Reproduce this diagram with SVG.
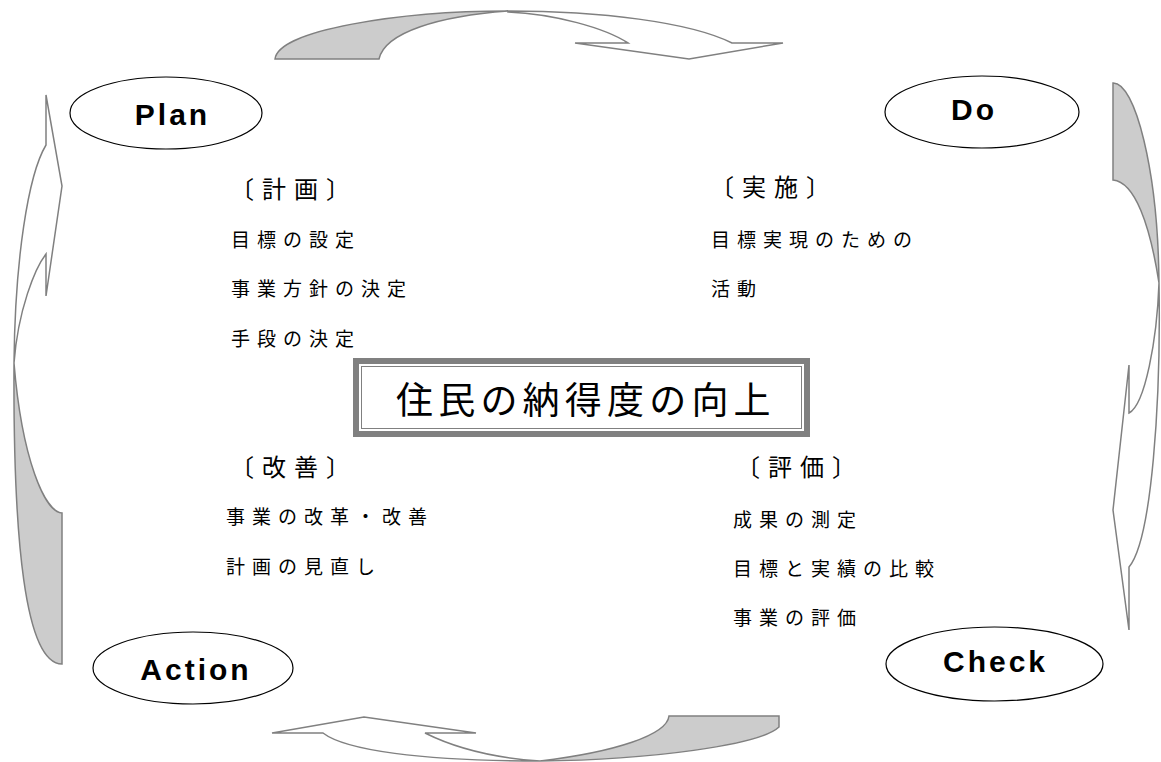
<svg xmlns="http://www.w3.org/2000/svg" width="1161" height="762" viewBox="0 0 1161 762">
<style>
.arw{stroke:#808080;stroke-width:1.5;stroke-linejoin:miter}
.w{fill:#ffffff}
.g{fill:#cccccc}
.ell{fill:#ffffff;stroke:#000000;stroke-width:1.2}
.en{font-family:"Liberation Sans",Arial,sans-serif;font-weight:bold;font-size:30px;letter-spacing:3px;fill:#000;text-anchor:middle}
.hd{font-family:"Noto Sans CJK JP","Noto Sans CJK SC",sans-serif;font-size:24px;letter-spacing:8px;fill:#000}
.it{font-family:"Noto Sans CJK JP","Noto Sans CJK SC",sans-serif;font-size:19px;letter-spacing:7px;fill:#000}
.ct{font-family:"Noto Sans CJK JP","Noto Sans CJK SC",sans-serif;font-size:37px;letter-spacing:5.2px;fill:#000}
</style>
<rect width="1161" height="762" fill="#ffffff"/>
<g id="connectors">
  <g id="arrow-top">
    <path class="arw g" d="M275,59 C278,30 400,11 508,11 C440,16 385,32 379,59 Z"/>
    <path class="arw w" d="M508,11 C600,11 690,22 732,43 L783,43 L689,59 L575,43 L628,43 C605,28 555,14 508,12 Z"/>
  </g>
  <g id="arrow-right">
    <path class="arw g" d="M1113,83 C1135,82 1158,170 1159,283 C1150,225 1135,182 1113,180 Z"/>
    <path class="arw w" d="M1159,283 C1161,400 1152,540 1129,567 L1129,630 L1113,510 L1129,365 L1129,413 C1145,405 1157,340 1159,283 Z"/>
  </g>
  <g id="arrow-bottom">
    <path class="arw g" d="M540,761 C650,760 760,745 779,727 L779,716 L669,716 C667,735 615,752 540,761 Z"/>
    <path class="arw w" d="M272,733 L364,717 L476,733 L425,733 C455,748 495,758 540,761 C420,761 345,750 323,733 Z"/>
  </g>
  <g id="arrow-left">
    <path class="arw g" d="M14,363 C13,540 25,664 62,664 L62,513 C45,512 22,460 14,363 Z"/>
    <path class="arw w" d="M46,145 C28,175 15,260 14,363 C18,310 35,268 46,254 L46,296 L62,186 L46,95 Z"/>
  </g>
</g>
<g id="node-plan">
  <ellipse class="ell" cx="166" cy="113" rx="96" ry="36"/>
  <text class="en" x="172.5" y="125">Plan</text>
</g>
<g id="node-do">
  <ellipse class="ell" cx="982" cy="112" rx="97" ry="36"/>
  <text class="en" x="974" y="120">Do</text>
</g>
<g id="node-action">
  <ellipse class="ell" cx="193" cy="668" rx="100" ry="36"/>
  <text class="en" x="196" y="680">Action</text>
</g>
<g id="node-check">
  <ellipse class="ell" cx="994.5" cy="664" rx="108.5" ry="37"/>
  <text class="en" x="995.5" y="672">Check</text>
</g>
<g id="text-plan">
  <text class="hd" x="230" y="198">〔計画〕</text>
  <text class="it" x="231" y="247">目標の設定</text>
  <text class="it" x="231" y="296">事業方針の決定</text>
  <text class="it" x="231" y="346">手段の決定</text>
</g>
<g id="text-do">
  <text class="hd" x="710" y="196">〔実施〕</text>
  <text class="it" x="711" y="247">目標実現のための</text>
  <text class="it" x="711" y="296">活動</text>
</g>
<g id="text-action">
  <text class="hd" x="230" y="476">〔改善〕</text>
  <text class="it" x="226" y="524">事業の改革・改善</text>
  <text class="it" x="226" y="574">計画の見直し</text>
</g>
<g id="text-check">
  <text class="hd" x="736" y="476">〔評価〕</text>
  <text class="it" x="733" y="527">成果の測定</text>
  <text class="it" x="733" y="576">目標と実績の比較</text>
  <text class="it" x="733" y="625">事業の評価</text>
</g>
<g id="node-center">
  <rect x="353" y="358" width="457" height="79" fill="#808080"/>
  <rect x="359" y="364" width="445" height="67" fill="#ffffff"/>
  <rect x="361.5" y="366.5" width="440" height="62" fill="none" stroke="#808080" stroke-width="1"/>
  <text class="ct" x="396" y="414">住民の納得度の向上</text>
</g>
</svg>
